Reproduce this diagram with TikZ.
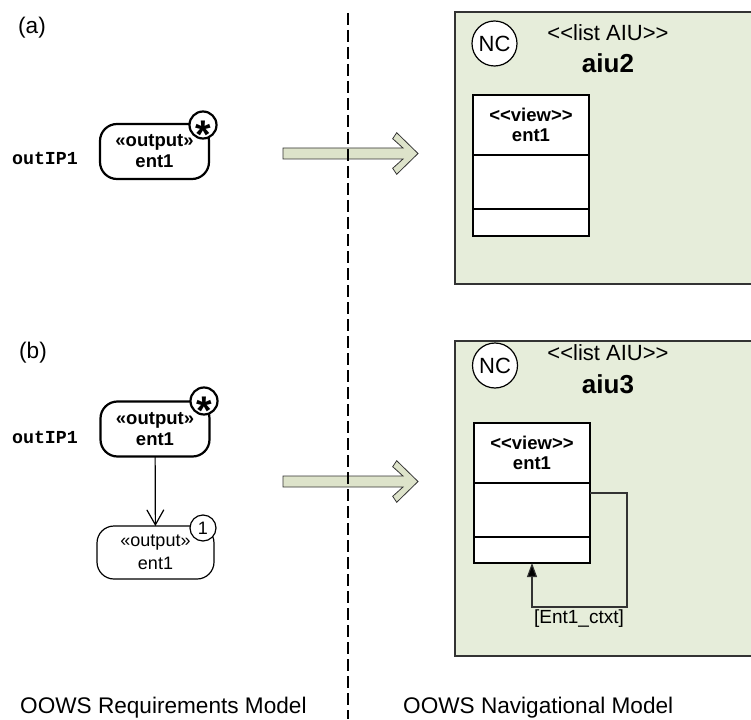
\documentclass[tikz,border=0pt]{standalone}
\usepackage{fontspec}
\setmainfont{Liberation Sans}
\newfontfamily\codefont{Liberation Mono}
\usetikzlibrary{arrows.meta,positioning}
\definecolor{sage}{HTML}{E6EDDA}
\definecolor{sagearr}{HTML}{DDE3CA}
\definecolor{inkgray}{HTML}{333333}
\newcommand{\ltlt}{<\kern0pt<}
\newcommand{\gtgt}{>\kern0pt>}
\tikzset{
  tag/.style={font=\fontsize{22.6}{26}\selectfont,inner sep=0pt},
  code/.style={font=\fontsize{18.3}{22}\selectfont\codefont\bfseries,inner sep=0pt},
  req/.style={draw=black,fill=white,rounded corners=17pt,line width=2.2pt,align=center,minimum width=109pt,minimum height=55pt,inner sep=0pt,outer sep=0pt,font=\fontsize{18.5}{21}\selectfont\bfseries},
  reqn/.style={req,line width=1.2pt,minimum width=117pt,minimum height=53pt,font=\fontsize{18}{23}\selectfont},
  card/.style={circle,draw=black,fill=white,line width=2.2pt,minimum size=27pt,inner sep=0pt},
  cardn/.style={card,line width=1.2pt,minimum size=26pt,font=\fontsize{18}{20}\selectfont},
  astx/.style={font=\fontsize{40}{40}\selectfont\bfseries,inner sep=0pt,anchor=base},
  navline/.style={draw=inkgray,line width=1.4pt},
  nc/.style={circle,draw=black,fill=white,line width=1.2pt,minimum size=45pt,inner sep=0pt,font=\fontsize{22}{24}\selectfont},
  aiulist/.style={font=\fontsize{22}{26}\selectfont,inner sep=0pt},
  aiuname/.style={font=\fontsize{26}{30}\selectfont\bfseries,inner sep=0pt},
  viewhead/.style={draw=black,fill=white,line width=1.3pt,minimum width=116pt,minimum height=60pt,inner sep=0pt,outer sep=0pt,align=center,font=\fontsize{18.5}{20}\selectfont\bfseries},
  viewpart/.style={draw=black,fill=white,line width=1.3pt,minimum width=116pt,inner sep=0pt,outer sep=0pt},
  bigarr/.style={draw=inkgray,fill=sagearr,line width=0.8pt,line join=miter},
  openarr/.style={-{Straight Barb[length=15pt,width=17pt]},line width=1.2pt},
  ctx/.style={-{Triangle[length=14pt,width=10pt,fill=black]},draw=inkgray,line width=1.1pt},
  ctxlbl/.style={font=\fontsize{19}{22}\selectfont,inner sep=0pt},
  divider/.style={line width=2.6pt,dash pattern=on 12pt off 5pt},
}
\begin{document}
\begin{tikzpicture}[x=1pt,y=-1pt]
\useasboundingbox (0,0) rectangle (751,719);
% requirements side (a)
\node[tag] (lblA) at (32,28) {(a)};
\node[code] (ipA) at (45,158) {outIP1};
\node[req] (outA) at (154.5,151.5) {«output»\\ent1};
\node[card] (starA) at (203,125) {};
\node[astx] (astA) at ([yshift=-23.5pt]starA.center) {*};
% requirements side (b)
\node[tag] (lblB) at (33,353) {(b)};
\node[code] (ipB) at (45,437) {outIP1};
\node[req] (outB) at (155,429) {«output»\\ent1};
\node[card] (starB) at (204,401) {};
\node[astx] (astB) at ([yshift=-23.5pt]starB.center) {*};
\node[reqn] (outOne) at (155.5,552.5) {«output»\\ent1};
\node[cardn] (oneB) at (203,528) {1};
\draw[openarr] (outB) -- (outOne);
% navigational contexts
\fill[sage] (455,12) rectangle (751,284);
\draw[navline] (751,12) -| (455,284) -- (751,284);
\fill[sage] (455,341) rectangle (751,656);
\draw[navline] (751,341) -| (455,656) -- (751,656);
\node[nc] (ncA) at (494.5,43.5) {NC};
\node[aiulist] (listA) at (608,33) {\ltlt list AIU\gtgt};
\node[aiuname] (aiuA) at (608,63) {aiu2};
\node[viewhead] (viewA) at (531,125) {\ltlt view\gtgt\\ent1};
\node[viewpart,minimum height=54pt,below=0pt of viewA] (attrA) {};
\node[viewpart,minimum height=27pt,below=0pt of attrA] (opsA) {};
\node[nc] (ncB) at (495,365.5) {NC};
\node[aiulist] (listB) at (608,353) {\ltlt list AIU\gtgt};
\node[aiuname] (aiuB) at (608,384) {aiu3};
\node[viewhead] (viewB) at (532,453) {\ltlt view\gtgt\\ent1};
\node[viewpart,minimum height=54pt,below=0pt of viewB] (attrB) {};
\node[viewpart,minimum height=26pt,below=0pt of attrB] (opsB) {};
\coordinate (loopB) at (627,607);
\draw[ctx] ([yshift=17pt]attrB.east) -| (loopB) -| (opsB.south);
\node[ctxlbl] (ctxB) at (579,619) {[Ent1\_ctxt]};
% transformation arrows
\foreach \yc in {153.5,481.5}
  \draw[bigarr] (283,\yc-5.5) -- (403,\yc-5.5) -- (392.7,\yc-14.8) -- (396.7,\yc-20.8) -- (418,\yc)
    -- (396.7,\yc+20.8) -- (392.7,\yc+14.8) -- (403,\yc+5.5) -- (283,\yc+5.5) -- cycle;
\draw[divider] (348,13) -- (348,719);
\node[tag,anchor=base west] (reqLbl) at (20,713) {OOWS Requirements Model};
\node[tag,anchor=base west] (navLbl) at (403,713) {OOWS Navigational Model};
\end{tikzpicture}
\end{document}
